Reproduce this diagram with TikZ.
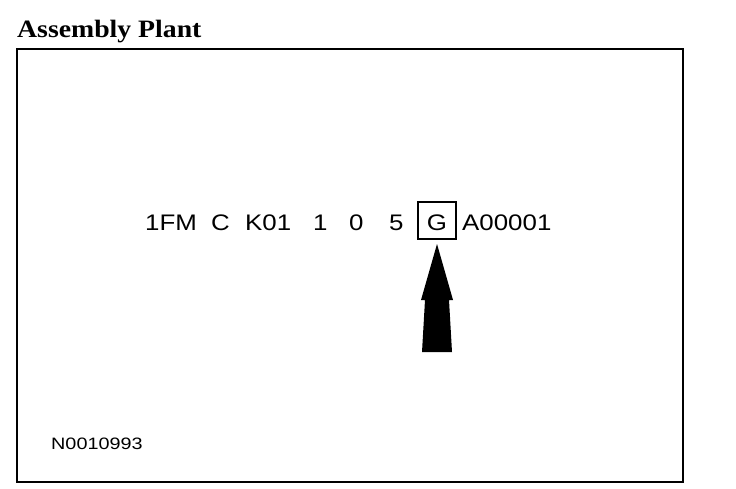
\documentclass[tikz,border=0pt]{standalone}
\usepackage{fontspec}
\setmainfont{Liberation Serif}
\setsansfont{Liberation Sans}
\newcommand\wide[2][1.15]{\scalebox{#1}[1]{#2}}
\begin{document}
\begin{tikzpicture}[
    x=1pt, y=-1pt,
    vin/.style={anchor=base west, inner sep=0pt,
        font=\sffamily\fontsize{22.5}{22.5}\selectfont},
    every node/.style={text=black}]
    \useasboundingbox (0,0) rectangle (736,488);

    % Titulo y marco.
    \node[anchor=base west, inner sep=0pt,
        font=\bfseries\fontsize{25}{25}\selectfont] (title) at (17,37)
        {\wide[1.11]{Assembly Plant}};
    \draw[line width=2pt] (17,49) rectangle (683,482);

    % Numero VIN.
    \node[vin] (wmi) at (145,230) {\wide{1FM}};
    \node[vin] (restr) at (211,230) {\wide{C}};
    \node[vin] (model) at (245,230) {\wide{K01}};
    \node[vin] (body) at (313,230) {\wide{1}};
    \node[vin] (check) at (349,230) {\wide{0}};
    \node[vin] (year) at (389,230) {\wide{5}};
    \node[vin, anchor=base, draw, line width=1.8pt, minimum width=38pt,
        text height=28pt, text depth=9pt] (plant) at (437,230) {\wide{G}};
    \node[vin] (serial) at (462,230) {\wide{A00001}};

    % Flecha hacia la planta.
    \fill (437,244) -- (453,300) -- (449,300) -- (452,352)
        -- (422,352) -- (425,300) -- (421,300) -- cycle;

    \node[anchor=base west, inner sep=0pt,
        font=\sffamily\fontsize{16.5}{16.5}\selectfont] (ref) at (51,449)
        {\wide[1.2]{N0010993}};
\end{tikzpicture}
\end{document}
